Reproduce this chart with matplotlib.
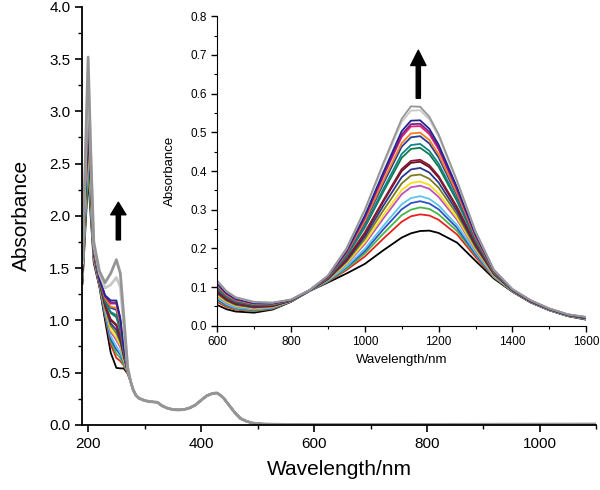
import matplotlib.pyplot as plt
from matplotlib.ticker import MultipleLocator

plt.rcParams['font.family'] = ['Liberation Sans', 'DejaVu Sans']

# line colours, lowest curve first
colors = ['#000000', '#e8231f', '#44b844', '#2f4fc8', '#5cc6ea', '#c04fc0',
          '#f2e21e', '#7f7a1e', '#26388e', '#6a0f22', '#861a34', '#0f7c4e',
          '#108484', '#2a3e8e', '#f08020', '#e21f7c', '#80207f', '#1f2790',
          '#c8c8c8', '#959595']

# UV-vis part: sharp band at 200 nm and shoulder at 250 nm (one row per curve)
uv_head_wl = [190, 195, 200, 205, 210, 220, 230, 240, 250, 257, 263, 270]
uv_head = [
    [1.35, 1.86, 2.37, 1.96, 1.55, 1.32, 1.00, 0.69, 0.545, 0.54, 0.54, 0.49],
    [1.38, 1.94, 2.50, 2.04, 1.57, 1.33, 1.04, 0.77, 0.64, 0.61, 0.57, 0.49],
    [1.39, 1.93, 2.46, 2.02, 1.58, 1.34, 1.05, 0.80, 0.68, 0.64, 0.58, 0.50],
    [1.40, 2.00, 2.60, 2.09, 1.59, 1.34, 1.06, 0.82, 0.72, 0.67, 0.60, 0.50],
    [1.41, 2.02, 2.64, 2.12, 1.60, 1.35, 1.08, 0.85, 0.75, 0.69, 0.61, 0.50],
    [1.43, 2.07, 2.72, 2.16, 1.61, 1.35, 1.10, 0.89, 0.81, 0.74, 0.63, 0.50],
    [1.44, 2.10, 2.75, 2.18, 1.62, 1.36, 1.11, 0.91, 0.835, 0.76, 0.63, 0.50],
    [1.45, 2.13, 2.80, 2.22, 1.63, 1.36, 1.12, 0.95, 0.875, 0.79, 0.65, 0.51],
    [1.46, 2.16, 2.85, 2.24, 1.64, 1.37, 1.14, 0.97, 0.91, 0.81, 0.66, 0.51],
    [1.48, 2.19, 2.90, 2.27, 1.64, 1.37, 1.15, 1.00, 0.95, 0.84, 0.67, 0.51],
    [1.48, 2.20, 2.92, 2.28, 1.65, 1.37, 1.15, 1.01, 0.96, 0.85, 0.68, 0.51],
    [1.50, 2.25, 3.01, 2.34, 1.66, 1.38, 1.18, 1.07, 1.03, 0.90, 0.70, 0.51],
    [1.51, 2.27, 3.04, 2.35, 1.67, 1.38, 1.19, 1.08, 1.05, 0.92, 0.70, 0.51],
    [1.52, 2.31, 3.10, 2.39, 1.68, 1.39, 1.21, 1.12, 1.10, 0.95, 0.72, 0.52],
    [1.53, 2.33, 3.13, 2.40, 1.68, 1.39, 1.21, 1.13, 1.12, 0.97, 0.73, 0.52],
    [1.54, 2.36, 3.18, 2.43, 1.69, 1.40, 1.23, 1.16, 1.16, 1.00, 0.74, 0.52],
    [1.54, 2.37, 3.19, 2.44, 1.70, 1.40, 1.23, 1.17, 1.17, 1.01, 0.74, 0.52],
    [1.55, 2.39, 3.22, 2.46, 1.70, 1.40, 1.24, 1.19, 1.19, 1.02, 0.75, 0.52],
    [1.55, 2.45, 3.38, 2.50, 1.72, 1.45, 1.31, 1.34, 1.41, 1.32, 0.95, 0.54],
    [1.58, 2.55, 3.52, 2.55, 1.75, 1.47, 1.36, 1.45, 1.58, 1.45, 1.05, 0.55],
]
# all curves coincide past 275 nm
uv_tail_wl = [275, 280, 285, 290, 300, 310, 318, 323, 330, 340, 350, 360, 370,
              380, 390, 400, 410, 420, 428, 435, 440, 450, 460, 470, 480, 490,
              500, 520, 550, 600, 700, 800, 900, 1000, 1100]
uv_tail = [0.42, 0.33, 0.28, 0.255, 0.232, 0.222, 0.218, 0.215, 0.185, 0.160,
           0.146, 0.143, 0.147, 0.162, 0.190, 0.235, 0.278, 0.300, 0.305, 0.28,
           0.255, 0.185, 0.115, 0.06, 0.035, 0.018, 0.011, 0.006, 0.004, 0.003,
           0.003, 0.004, 0.005, 0.006, 0.007]

# NIR band (inset)
nir_wl = [600, 625, 650, 700, 750, 800, 850, 900, 950, 1000, 1050, 1100, 1125,
          1150, 1175, 1200, 1250, 1300, 1350, 1400, 1450, 1500, 1550, 1600]
nir_abs = [
    [0.054, 0.043, 0.037, 0.034, 0.042, 0.062, 0.090, 0.112, 0.135, 0.160, 0.195, 0.228,
     0.239, 0.245, 0.246, 0.240, 0.215, 0.168, 0.122, 0.088, 0.060, 0.040, 0.025, 0.016],
    [0.062, 0.049, 0.042, 0.038, 0.044, 0.063, 0.090, 0.114, 0.144, 0.179, 0.225, 0.269,
     0.283, 0.288, 0.285, 0.274, 0.236, 0.178, 0.125, 0.089, 0.061, 0.041, 0.026, 0.017],
    [0.066, 0.052, 0.044, 0.039, 0.045, 0.063, 0.090, 0.115, 0.147, 0.187, 0.238, 0.286,
     0.300, 0.306, 0.302, 0.288, 0.245, 0.183, 0.126, 0.089, 0.061, 0.041, 0.026, 0.017],
    [0.069, 0.054, 0.046, 0.041, 0.046, 0.063, 0.090, 0.116, 0.151, 0.193, 0.249, 0.301,
     0.317, 0.322, 0.316, 0.301, 0.253, 0.186, 0.128, 0.090, 0.061, 0.041, 0.026, 0.018],
    [0.072, 0.056, 0.047, 0.042, 0.047, 0.064, 0.091, 0.117, 0.153, 0.199, 0.258, 0.314,
     0.330, 0.335, 0.328, 0.311, 0.260, 0.190, 0.128, 0.090, 0.062, 0.041, 0.026, 0.018],
    [0.077, 0.060, 0.051, 0.044, 0.049, 0.064, 0.091, 0.119, 0.159, 0.211, 0.277, 0.340,
     0.358, 0.362, 0.354, 0.333, 0.274, 0.196, 0.130, 0.091, 0.062, 0.042, 0.027, 0.019],
    [0.079, 0.062, 0.052, 0.045, 0.049, 0.064, 0.091, 0.119, 0.161, 0.216, 0.285, 0.351,
     0.369, 0.373, 0.364, 0.342, 0.279, 0.199, 0.131, 0.091, 0.062, 0.042, 0.027, 0.019],
    [0.083, 0.065, 0.054, 0.047, 0.050, 0.065, 0.091, 0.120, 0.165, 0.224, 0.298, 0.368,
     0.388, 0.391, 0.380, 0.357, 0.288, 0.203, 0.133, 0.091, 0.063, 0.042, 0.027, 0.019],
    [0.086, 0.067, 0.056, 0.048, 0.051, 0.065, 0.091, 0.121, 0.168, 0.231, 0.310, 0.384,
     0.404, 0.408, 0.396, 0.370, 0.296, 0.207, 0.134, 0.092, 0.063, 0.043, 0.028, 0.020],
    [0.089, 0.069, 0.058, 0.050, 0.052, 0.065, 0.091, 0.122, 0.171, 0.238, 0.321, 0.400,
     0.421, 0.424, 0.410, 0.383, 0.304, 0.211, 0.135, 0.092, 0.063, 0.043, 0.028, 0.020],
    [0.090, 0.070, 0.058, 0.050, 0.052, 0.066, 0.091, 0.122, 0.172, 0.241, 0.324, 0.405,
     0.426, 0.429, 0.415, 0.387, 0.307, 0.212, 0.135, 0.092, 0.063, 0.043, 0.028, 0.020],
    [0.096, 0.075, 0.062, 0.053, 0.054, 0.066, 0.091, 0.124, 0.179, 0.254, 0.346, 0.434,
     0.457, 0.460, 0.443, 0.411, 0.322, 0.220, 0.137, 0.093, 0.064, 0.043, 0.028, 0.021],
    [0.098, 0.076, 0.063, 0.054, 0.055, 0.066, 0.091, 0.125, 0.181, 0.258, 0.353, 0.444,
     0.467, 0.470, 0.452, 0.419, 0.327, 0.222, 0.138, 0.093, 0.064, 0.044, 0.029, 0.021],
    [0.102, 0.079, 0.065, 0.055, 0.056, 0.067, 0.092, 0.126, 0.185, 0.267, 0.367, 0.463,
     0.487, 0.490, 0.471, 0.435, 0.337, 0.227, 0.140, 0.093, 0.065, 0.044, 0.029, 0.021],
    [0.104, 0.080, 0.066, 0.056, 0.056, 0.067, 0.092, 0.126, 0.187, 0.271, 0.374, 0.472,
     0.497, 0.499, 0.480, 0.443, 0.342, 0.229, 0.140, 0.094, 0.065, 0.044, 0.029, 0.022],
    [0.107, 0.083, 0.068, 0.058, 0.057, 0.067, 0.092, 0.127, 0.190, 0.279, 0.386, 0.488,
     0.515, 0.516, 0.495, 0.456, 0.351, 0.233, 0.142, 0.094, 0.065, 0.044, 0.029, 0.022],
    [0.109, 0.084, 0.069, 0.058, 0.058, 0.067, 0.092, 0.128, 0.191, 0.281, 0.390, 0.494,
     0.521, 0.522, 0.501, 0.461, 0.354, 0.235, 0.142, 0.094, 0.065, 0.044, 0.029, 0.022],
    [0.110, 0.085, 0.070, 0.059, 0.058, 0.067, 0.092, 0.128, 0.193, 0.285, 0.396, 0.503,
     0.530, 0.531, 0.509, 0.468, 0.358, 0.237, 0.143, 0.094, 0.065, 0.044, 0.029, 0.022],
    [0.115, 0.089, 0.073, 0.061, 0.060, 0.068, 0.092, 0.130, 0.198, 0.297, 0.414, 0.527,
     0.556, 0.557, 0.533, 0.489, 0.371, 0.243, 0.144, 0.095, 0.066, 0.045, 0.030, 0.023],
    [0.117, 0.090, 0.074, 0.062, 0.060, 0.068, 0.092, 0.130, 0.200, 0.300, 0.420, 0.535,
     0.567, 0.566, 0.540, 0.495, 0.375, 0.245, 0.145, 0.095, 0.066, 0.045, 0.030, 0.023],
]

fig = plt.figure(figsize=(6.0, 4.9), dpi=100)
ax = fig.add_axes([0.137, 0.133, 0.857, 0.853])

uv_wl = uv_head_wl + uv_tail_wl
for i, head in enumerate(uv_head):
    lw = 2.0 if i >= 18 else 1.3
    ax.plot(uv_wl, head + uv_tail, color=colors[i], lw=lw)

ax.set_xlim(189.5, 1100)
ax.set_ylim(0, 4.0)
ax.xaxis.set_major_locator(MultipleLocator(200))
ax.xaxis.set_minor_locator(MultipleLocator(100))
ax.yaxis.set_major_locator(MultipleLocator(0.5))
ax.yaxis.set_minor_locator(MultipleLocator(0.25))
ax.yaxis.set_major_formatter(plt.FormatStrFormatter('%.1f'))
ax.tick_params(which='major', direction='out', length=5, width=1.2, labelsize=11)
ax.tick_params(which='minor', direction='out', length=3, width=1.0)
for s in ['top', 'right']:
    ax.spines[s].set_visible(False)
for s in ['left', 'bottom']:
    ax.spines[s].set_linewidth(1.3)
ax.set_xlabel('Wavelength/nm', fontsize=15, labelpad=7)
ax.set_ylabel('Absorbance', fontsize=15, labelpad=13)
ax.annotate('', xy=(253.5, 2.13), xytext=(253.5, 1.77),
            arrowprops=dict(facecolor='black', edgecolor='black', width=3,
                            headwidth=11, headlength=9))

ins = fig.add_axes([0.362, 0.335, 0.615, 0.632])
for i, row in enumerate(nir_abs):
    ins.plot(nir_wl, row, color=colors[i], lw=1.3)
ins.set_xlim(600, 1600)
ins.set_ylim(0, 0.8)
ins.xaxis.set_major_locator(MultipleLocator(200))
ins.xaxis.set_minor_locator(MultipleLocator(100))
ins.yaxis.set_major_locator(MultipleLocator(0.1))
ins.yaxis.set_minor_locator(MultipleLocator(0.05))
ins.yaxis.set_major_formatter(plt.FormatStrFormatter('%.1f'))
ins.tick_params(which='major', direction='out', length=4, width=1.0, labelsize=8.5)
ins.tick_params(which='minor', direction='out', length=2.5, width=0.8)
for s in ['top', 'right']:
    ins.spines[s].set_visible(False)
ins.set_xlabel('Wavelength/nm', fontsize=9.5, labelpad=4)
ins.set_ylabel('Absorbance', fontsize=9.5, labelpad=10)
ins.annotate('', xy=(1145, 0.712), xytext=(1145, 0.588),
             arrowprops=dict(facecolor='black', edgecolor='black', width=3,
                             headwidth=11, headlength=11))

fig.savefig('out.png', dpi=100)
